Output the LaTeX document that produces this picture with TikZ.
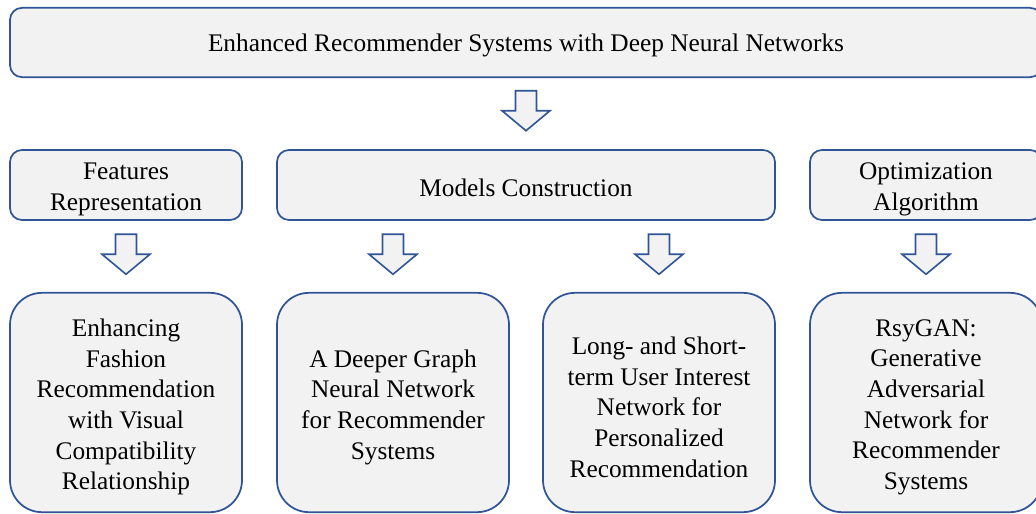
\documentclass[tikz,border=0pt]{standalone}
\usepackage{fontspec}
\setmainfont{Liberation Serif}
\usetikzlibrary{calc}
\definecolor{boxline}{RGB}{47,85,151}
\definecolor{boxfill}{RGB}{242,242,242}
\tikzset{
  panel/.style={draw=boxline, fill=boxfill, line width=1.3pt,
    rounded corners=9pt, inner sep=0pt},
  caption/.style={align=center, inner sep=0pt, text=black,
    font=\fontsize{19}{23}\selectfont},
  headbox/.style={panel, minimum width=774pt, minimum height=52pt},
  groupbox/.style={panel, minimum width=174pt, minimum height=52.5pt},
  widebox/.style={panel, minimum width=373.5pt, minimum height=52.5pt},
  paperbox/.style={panel, rounded corners=24pt, minimum width=174pt, minimum height=164.5pt},
  downarrow/.pic={
    \draw[boxline, fill=boxfill, line width=1.2pt, line join=miter]
      (-10.5,-20) -- (10.5,-20) -- (10.5,0) -- (24,0) -- (0,20)
      -- (-24,0) -- (-10.5,0) -- cycle;
  }
}
% text of a panel, lowered slightly for optical centring: {panel}{drop}{text}
\newcommand\paneltext[3]{\node[caption, yshift=-#2] (#1-text) at (#1.center) {#3};}
\begin{document}
\begin{tikzpicture}[x=0.75pt, y=-0.75pt]
\useasboundingbox (0,0) rectangle (1036,514);
\clip (0,0) rectangle (1036,514);

% title box
\node[headbox] (top) at (526,42.5) {};
\paneltext{top}{2pt}{Enhanced Recommender Systems with Deep Neural Networks}

% three research directions
\node[groupbox] (feat)  at (126,185) {};
\paneltext{feat}{3.2pt}{Features\\Representation}
\node[widebox]  (model) at (526,185) {};
\paneltext{model}{1.8pt}{Models Construction}
\node[groupbox] (optim) at (926,185) {};
\paneltext{optim}{3.2pt}{Optimization\\Algorithm}

% papers under each direction
\node[paperbox] (p1) at (126,402.5) {};
\paneltext{p1}{3.5pt}{Enhancing\\Fashion\\Recommendation\\with Visual\\Compatibility\\Relationship}
\node[paperbox] (p2) at (393,402.5) {};
\paneltext{p2}{3.5pt}{A Deeper Graph\\Neural Network\\for Recommender\\Systems}
\node[paperbox] (p3) at (659,402.5) {};
\paneltext{p3}{3.5pt}{Long- and Short-\\term User Interest\\Network for\\Personalized\\Recommendation}
\node[paperbox] (p4) at (926,402.5) {};
\paneltext{p4}{3.5pt}{RsyGAN:\\Generative\\Adversarial\\Network for\\Recommender\\Systems}

% block arrows between levels
\pic at ($(top.south)!0.46!(model.north)$) {downarrow};
\pic at ($(feat.south)!0.47!(p1.north)$) {downarrow};
\pic at ($(model.south -| p2.north)!0.47!(p2.north)$) {downarrow};
\pic at ($(model.south -| p3.north)!0.47!(p3.north)$) {downarrow};
\pic at ($(optim.south)!0.47!(p4.north)$) {downarrow};
\end{tikzpicture}
\end{document}
